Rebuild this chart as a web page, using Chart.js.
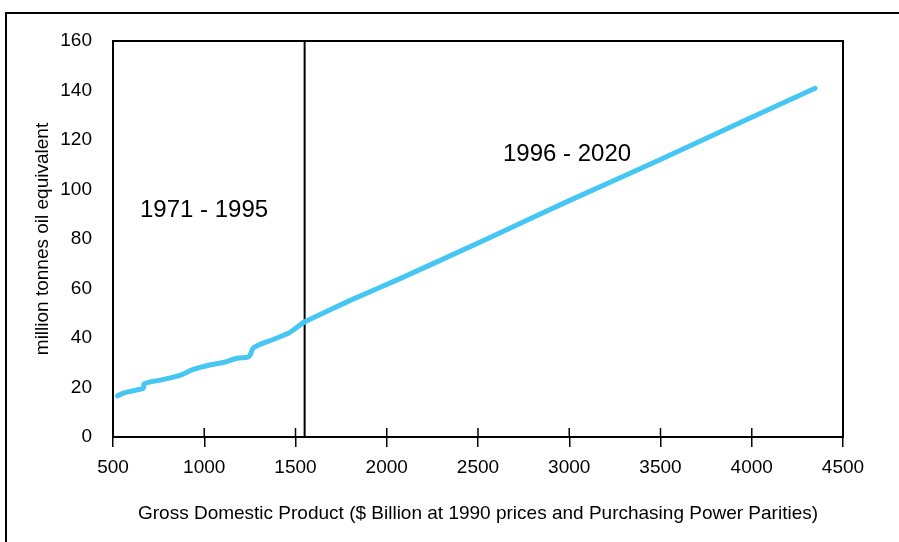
<!DOCTYPE html>
<html>
<head>
<meta charset="utf-8">
<script src="https://cdn.jsdelivr.net/npm/chart.js@4"></script>
<style>
  html, body { margin: 0; padding: 0; background: #fff; overflow: hidden; }
  #wrap { position: relative; width: 899px; height: 542px; }
  #frame { position: absolute; left: 5px; top: 12px; width: 1000px; height: 1000px; border: 2.5px solid #000; }
  canvas { position: absolute; left: 0; top: 0; }
</style>
</head>
<body>
<div id="wrap">
  <div id="frame"></div>
  <canvas id="grafica" width="899" height="542"></canvas>
</div>
<script>
/* Datos */

// 1971 - 1995 : PIB (x) y demanda de energia (y)
let pibPeriodo1 = [525, 560, 600, 640, 666, 670, 700, 760, 820, 870, 940, 1030, 1110, 1180, 1240, 1252, 1266, 1290, 1370, 1460, 1500, 1545];
let energiaPeriodo1 = [16.6, 17.8, 18.5, 19.2, 19.7, 21.4, 22.2, 23.0, 24.0, 25.0, 27.3, 29.1, 30.2, 31.8, 32.3, 33.2, 35.8, 36.9, 39.2, 41.9, 43.9, 46.4];

// 1996 - 2020 : proyeccion
let pibPeriodo2 = [1545, 1800, 2073, 2566, 3000, 3497, 4000, 4347];
let energiaPeriodo2 = [46.4, 55.2, 64.0, 80.6, 95.5, 112.0, 129.2, 140.9];

// linea divisoria entre periodos
let pibDivision = [1550, 1550];
let energiaDivision = [0, 160];

// etiquetas de periodo
let etiquetas = ['1971 - 1995', '1996 - 2020'];
let etiquetasX = [648, 2637];
let etiquetasY = [91.7, 114];

let ejeX = { min: 500, max: 4500, paso: 500 };
let ejeY = { min: 0, max: 160, paso: 20 };

let colorLinea = '#46C6F2';
let fuente = "'Liberation Sans', sans-serif";

function puntos(xs, ys) {
    return xs.map((x, i) => ({ x: x, y: ys[i] }));
}

// Marco del area de grafico, marcas del eje X que cruzan y textos
const extras = {
    id: 'extras',
    afterDraw(chart) {
        const ctx = chart.ctx;
        const area = chart.chartArea;
        const sx = chart.scales.x;
        const sy = chart.scales.y;
        ctx.save();
        ctx.strokeStyle = '#000';
        ctx.lineWidth = 2;
        ctx.strokeRect(area.left, area.top, area.right - area.left, area.bottom - area.top);
        // parte interior de las marcas del eje X
        ctx.lineWidth = 1.5;
        for (let v = ejeX.min; v <= ejeX.max; v += ejeX.paso) {
            let px = sx.getPixelForValue(v);
            ctx.beginPath();
            ctx.moveTo(px, area.bottom);
            ctx.lineTo(px, area.bottom - 9);
            ctx.stroke();
        }
        ctx.fillStyle = '#000';
        ctx.font = "24px " + fuente;
        ctx.textAlign = 'left';
        ctx.textBaseline = 'middle';
        for (let i = 0; i < etiquetas.length; i++) {
            ctx.fillText(etiquetas[i], sx.getPixelForValue(etiquetasX[i]), sy.getPixelForValue(etiquetasY[i]));
        }
        ctx.restore();
    }
};

let ctx = document.getElementById('grafica').getContext('2d');
let grafica = new Chart(ctx, {
    type: 'scatter',
    data: {
        datasets: [{
            label: '1971 - 1995',
            data: puntos(pibPeriodo1, energiaPeriodo1),
            showLine: true,
            borderColor: colorLinea,
            borderWidth: 5,
            pointRadius: 0,
            tension: 0.25,
            borderCapStyle: 'round',
            borderJoinStyle: 'round'
        }, {
            label: '1996 - 2020',
            data: puntos(pibPeriodo2, energiaPeriodo2),
            showLine: true,
            borderColor: colorLinea,
            borderWidth: 5,
            pointRadius: 0,
            tension: 0.2,
            borderCapStyle: 'round',
            borderJoinStyle: 'round'
        }, {
            label: 'division',
            data: puntos(pibDivision, energiaDivision),
            showLine: true,
            borderColor: '#000',
            borderWidth: 2,
            pointRadius: 0
        }]
    },
    options: {
        responsive: false,
        animation: false,
        layout: {
            padding: { left: 0, right: 56, top: 41, bottom: 0 }
        },
        plugins: {
            legend: { display: false },
            tooltip: { enabled: false }
        },
        scales: {
            x: {
                type: 'linear',
                min: ejeX.min,
                max: ejeX.max,
                afterFit(scale) { scale.height = 105; },
                ticks: {
                    stepSize: ejeX.paso,
                    padding: 9,
                    color: '#000',
                    font: { family: fuente, size: 19 },
                    maxRotation: 0,
                    callback: (v) => String(v)
                },
                grid: {
                    display: true,
                    drawOnChartArea: false,
                    tickLength: 10,
                    color: '#000',
                    lineWidth: 1.5
                },
                border: { display: true, color: '#000', width: 2 },
                title: {
                    display: true,
                    text: 'Gross Domestic Product ($ Billion at 1990 prices and Purchasing Power Parities)',
                    color: '#000',
                    font: { family: fuente, size: 19 },
                    padding: { top: 0, bottom: 17 }
                }
            },
            y: {
                min: ejeY.min,
                max: ejeY.max,
                afterFit(scale) { scale.width = 113; },
                ticks: {
                    stepSize: ejeY.paso,
                    padding: 21,
                    color: '#000',
                    font: { family: fuente, size: 19 }
                },
                grid: {
                    display: true,
                    drawOnChartArea: false,
                    drawTicks: false,
                    color: '#000'
                },
                border: { display: true, color: '#000', width: 2 },
                title: {
                    display: true,
                    text: 'million tonnes oil equivalent',
                    color: '#000',
                    font: { family: fuente, size: 19 },
                    padding: { top: 31, bottom: 0 }
                }
            }
        }
    },
    plugins: [extras]
});
</script>
</body>
</html>
